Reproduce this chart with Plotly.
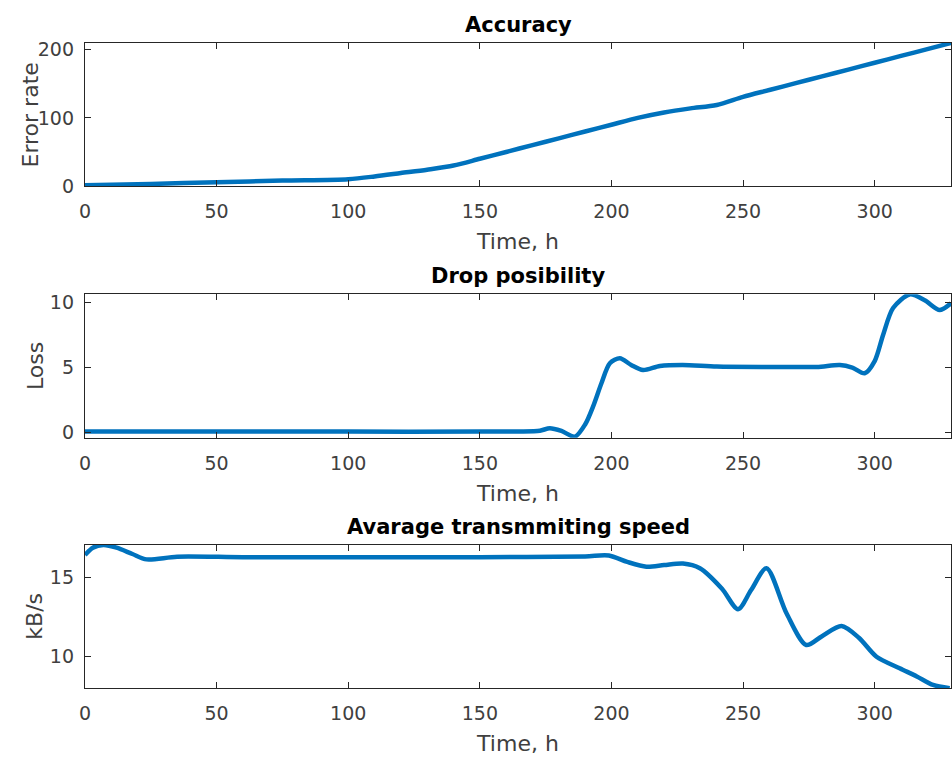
import plotly.graph_objects as go

# ---- data ----
acc_t = [0, 25, 50, 75, 100, 110, 120, 130, 140, 150, 160, 170, 180, 190, 200,
         210, 220, 230, 240, 250, 260, 270, 280, 290, 300, 310, 320, 329]
acc_v = [1, 3, 5.5, 8, 10, 14, 19, 24, 30, 40, 50, 60, 70, 80, 90,
         100, 108, 114, 119, 131, 141, 151, 161, 171, 181, 191, 201, 210]

drop_t = [0, 50, 100, 150, 165, 172.8, 176.6, 181, 186.1, 190, 193, 196.2, 199.4, 203.2,
          207.5, 212, 218.4, 227, 240, 260, 278, 286.8, 291.5, 296.2, 300, 303.2, 307,
          313.3, 319, 324.7, 329]
drop_v = [0.05, 0.05, 0.05, 0.05, 0.06, 0.12, 0.31, 0.1, -0.34, 0.6, 1.98, 3.79, 5.33, 5.72,
          5.2, 4.81, 5.12, 5.2, 5.08, 5.05, 5.05, 5.2, 5.0, 4.56, 5.5, 7.52, 9.6,
          10.65, 10.2, 9.45, 9.97]

spd_t = [0, 3, 7, 12, 18, 23.4, 35, 60, 100, 150, 190, 199, 206, 213.3, 220, 227.2,
         233.6, 242, 248.1, 253, 258.9, 266.5, 274, 280, 287.4, 294, 300.7,
         309.5, 316, 322.2, 328.5]
spd_v = [16.44, 16.9, 17.07, 16.9, 16.5, 16.16, 16.33, 16.3, 16.3, 16.3, 16.35, 16.4,
         16.0, 15.7, 15.8, 15.9, 15.6, 14.3, 13.0, 14.2, 15.6, 12.75, 10.74, 11.3,
         11.94, 11.2, 10.0, 9.27, 8.75, 8.21, 8.0]

titles = ["Accuracy", "Drop posibility", "Avarage transmmiting speed"]
ylabels = ["Error rate", "Loss", "kB/s"]
xlabel = "Time, h"
x_ticks = [0, 50, 100, 150, 200, 250, 300]
y_ticks = [[0, 100, 200], [0, 5, 10], [10, 15]]
y_ranges = [[0, 210], [-0.42, 10.66], [8.0, 17.07]]
x_range = [0, 329]

LINE = "#0072BD"
AX = "#262626"
TXT = "#404040"
FONT = "DejaVu Sans, Liberation Sans, sans-serif"

W, H = 952, 758
ML, MR = 85, 1
PW = W - ML - MR
# pixel extents of each plot area (top, bottom) and y-title centre x
boxes = [(43, 186), (294.3, 437.7), (545, 688.3)]
ytitle_x = [30, 35, 35]

fig = go.Figure()
series = [(acc_t, acc_v), (drop_t, drop_v), (spd_t, spd_v)]
for i, (t, v) in enumerate(series):
    n = "" if i == 0 else str(i + 1)
    fig.add_trace(go.Scatter(x=t, y=v, mode="lines",
                             line=dict(color=LINE, width=4.5, shape="spline", smoothing=0.8),
                             xaxis="x" + n, yaxis="y" + n, showlegend=False,
                             hoverinfo="skip"))

layout = dict(width=W, height=H, margin=dict(l=ML, r=MR, t=0, b=0),
              paper_bgcolor="white", plot_bgcolor="white",
              font=dict(family=FONT, color=AX, size=19), showlegend=False)

annotations = []
for i, (top, bot) in enumerate(boxes):
    n = "" if i == 0 else str(i + 1)
    dom = [1 - bot / H, 1 - top / H]
    common = dict(showline=True, linecolor=AX, linewidth=1.3, mirror="ticks",
                  ticks="inside", ticklen=6, tickcolor=AX, tickwidth=1.3,
                  showgrid=False, zeroline=False, automargin=False,
                  tickfont=dict(family=FONT, size=19, color=TXT))
    layout["xaxis" + n] = dict(common, range=x_range, tickvals=x_ticks,
                               anchor="y" + n, ticklabelstandoff=8,
                               title=dict(text=xlabel, standoff=12,
                                          font=dict(family=FONT, size=22, color=TXT)))
    layout["yaxis" + n] = dict(common, range=y_ranges[i], tickvals=y_ticks[i],
                               domain=dom, anchor="x" + n, ticklabelstandoff=6)
    # y-axis title
    annotations.append(dict(text=ylabels[i], xref="paper", yref="paper",
                            x=(ytitle_x[i] - ML) / PW, y=1 - (top + bot) / 2 / H,
                            xanchor="center", yanchor="middle", textangle=-90,
                            showarrow=False,
                            font=dict(family=FONT, size=22, color=TXT)))
    # subplot title
    annotations.append(dict(text="<b>" + titles[i] + "</b>", xref="paper", yref="paper",
                            x=0.5, y=1 - (top - 18) / H, xanchor="center", yanchor="middle",
                            showarrow=False,
                            font=dict(family=FONT, size=21, color="#000000")))

layout["annotations"] = annotations
fig.update_layout(**layout)
fig.write_html("out.html", config={"displayModeBar": False},
               post_script="document.body.style.margin='0';document.body.style.overflow='hidden';")
